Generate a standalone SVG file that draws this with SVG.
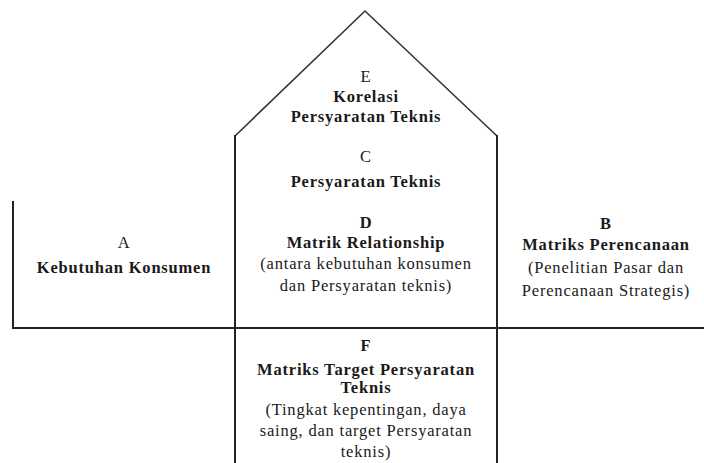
<svg xmlns="http://www.w3.org/2000/svg" width="704" height="463" viewBox="0 0 704 463">
<style>
.ln{stroke:#222;stroke-width:2;fill:none;stroke-linecap:square}
.roof{stroke:#333;stroke-width:1.6;fill:none}
text{font-family:"Liberation Serif","Times New Roman",serif;font-size:16.5px;letter-spacing:0.8px;fill:#1a1a1a;text-anchor:middle}
.b{font-weight:bold}
</style>
<rect width="704" height="463" fill="#fff"/>
<g id="connectors">
<polyline class="roof" points="235,136 365,11 497,136"/>
<line class="ln" x1="235" y1="136" x2="235" y2="463"/>
<line class="ln" x1="497" y1="136" x2="497" y2="463"/>
<line class="ln" x1="13" y1="202" x2="13" y2="328"/>
<line class="ln" x1="13" y1="328" x2="704" y2="328"/>
</g>
<g id="nodeE">
<text x="366" y="82">E</text>
<text class="b" x="366" y="102">Korelasi</text>
<text class="b" x="366" y="122">Persyaratan Teknis</text>
</g>
<g id="nodeC">
<text x="366" y="162">C</text>
<text class="b" x="366" y="187">Persyaratan Teknis</text>
</g>
<g id="nodeD">
<text class="b" x="366" y="228">D</text>
<text class="b" x="366" y="248">Matrik Relationship</text>
<text x="366" y="269">(antara kebutuhan konsumen</text>
<text x="366" y="291">dan Persyaratan teknis)</text>
</g>
<g id="nodeA">
<text x="124" y="248">A</text>
<text class="b" x="124" y="273">Kebutuhan Konsumen</text>
</g>
<g id="nodeB">
<text class="b" x="606" y="229">B</text>
<text class="b" x="606" y="250">Matriks Perencanaan</text>
<text x="606" y="273">(Penelitian Pasar dan</text>
<text x="606" y="296">Perencanaan Strategis)</text>
</g>
<g id="nodeF">
<text class="b" x="366" y="351">F</text>
<text class="b" x="366" y="375">Matriks Target Persyaratan</text>
<text class="b" x="366" y="393">Teknis</text>
<text x="366" y="415">(Tingkat kepentingan, daya</text>
<text x="366" y="436">saing, dan target Persyaratan</text>
<text x="366" y="457">teknis)</text>
</g>
</svg>
